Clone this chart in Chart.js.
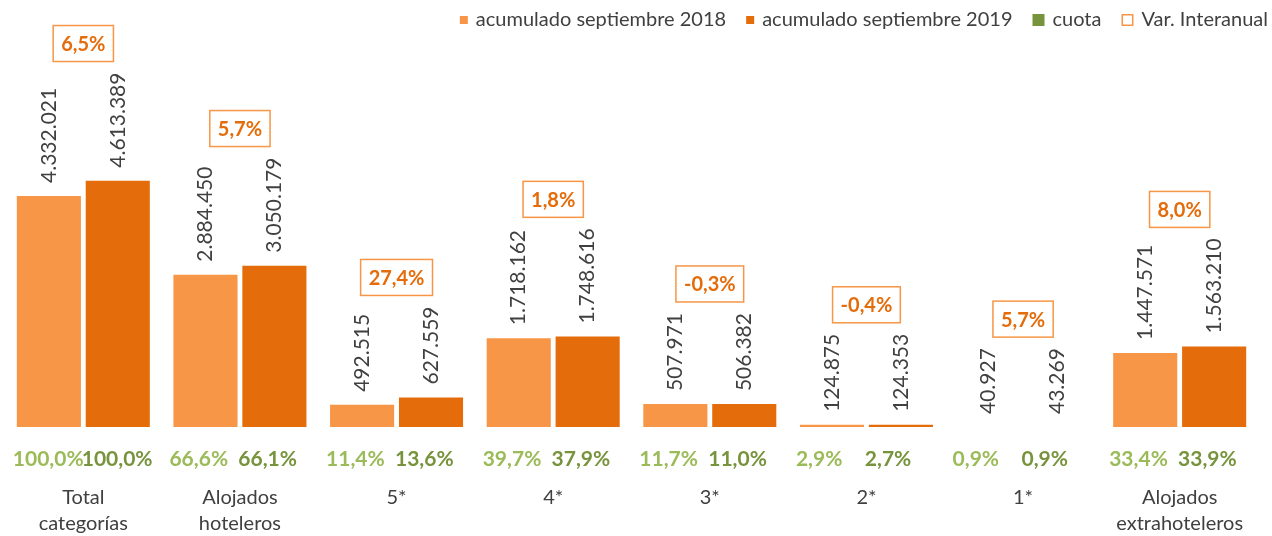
<!DOCTYPE html>
<html>
<head>
<meta charset="utf-8">
<script src="https://cdn.jsdelivr.net/npm/chart.js@4"></script>
<style>
  html, body { margin: 0; padding: 0; background: #ffffff; }
  #wrap { width: 1272px; height: 536px; }
</style>
</head>
<body>
<div id="wrap"><canvas id="c" width="1272" height="536"></canvas></div>
<script>
// ---- data ----
const categories = [
  ['Total', 'categorías'],
  ['Alojados', 'hoteleros'],
  '5*', '4*', '3*', '2*', '1*',
  ['Alojados', 'extrahoteleros']
];
const seriesNames = ['acumulado septiembre 2018', 'acumulado septiembre 2019', 'cuota', 'Var. Interanual'];
const acum2018 = [4332021, 2884450, 492515, 1718162, 507971, 124875, 40927, 1447571];
const acum2019 = [4613389, 3050179, 627559, 1748616, 506382, 124353, 43269, 1563210];
const cuota2018 = [100.0, 66.6, 11.4, 39.7, 11.7, 2.9, 0.9, 33.4];
const cuota2019 = [100.0, 66.1, 13.6, 37.9, 11.0, 2.7, 0.9, 33.9];
const varInteranual = [6.5, 5.7, 27.4, 1.8, -0.3, -0.4, 5.7, 8.0];

// ---- styles ----
const C18 = '#F79646', C19 = '#E46C0A', GREEN_L = '#9BBB59', GREEN_D = '#77933C', TXT = '#404040';
const FONT = 'Lato, "Open Sans", sans-serif';

const fmtInt = v => String(v).replace(/\B(?=(\d{3})+(?!\d))/g, '.');
const fmtPct = v => v.toFixed(1).replace('.', ',') + '%';

const labelsPlugin = {
  id: 'labelsPlugin',
  afterDatasetsDraw(chart) {
    const ctx = chart.ctx;
    const area = chart.chartArea;
    const m0 = chart.getDatasetMeta(0), m1 = chart.getDatasetMeta(1);
    ctx.save();
    const gap = 13;
    for (let i = 0; i < categories.length; i++) {
      const bars = [m0.data[i], m1.data[i]];
      const vals = [acum2018[i], acum2019[i]];
      const cuotas = [cuota2018[i], cuota2019[i]];
      const cols = [GREEN_L, GREEN_D];
      let minTop = Infinity;
      bars.forEach((b, k) => {
        const top = Math.min(b.y, b.base, area.bottom);
        const txt = fmtInt(vals[k]);
        ctx.font = '21px ' + FONT;
        const w = ctx.measureText(txt).width;
        ctx.save();
        ctx.translate(b.x, top - gap);
        ctx.rotate(-Math.PI / 2);
        ctx.fillStyle = TXT;
        ctx.textAlign = 'left';
        ctx.textBaseline = 'middle';
        ctx.fillText(txt, 0, 0);
        ctx.restore();
        minTop = Math.min(minTop, top - gap - w);
        // cuota labels
        ctx.font = 'bold 21px ' + FONT;
        ctx.fillStyle = cols[k];
        ctx.textAlign = 'left';
        ctx.textBaseline = 'middle';
        ctx.fillText(fmtPct(cuotas[k]), b.x - b.width / 2 - 4, 459);
      });
      // boxed variation
      const cx = (bars[0].x + bars[1].x) / 2;
      const t = fmtPct(varInteranual[i]);
      ctx.font = 'bold 20px ' + FONT;
      const tw = ctx.measureText(t).width;
      const bw = tw + 16, bh = 36;
      const by = minTop - 11 - bh;
      ctx.fillStyle = '#ffffff';
      ctx.fillRect(cx - bw / 2, by, bw, bh);
      ctx.strokeStyle = C18;
      ctx.lineWidth = 1.5;
      ctx.strokeRect(cx - bw / 2, by, bw, bh);
      ctx.fillStyle = C19;
      ctx.textAlign = 'center';
      ctx.textBaseline = 'middle';
      ctx.fillText(t, cx, by + bh / 2 + 1);
    }
    // legend (right aligned)
    ctx.font = '20px ' + FONT;
    ctx.textBaseline = 'middle';
    ctx.textAlign = 'left';
    const items = [
      { name: seriesNames[0], size: 8, fill: C18 },
      { name: seriesNames[1], size: 8, fill: C19 },
      { name: seriesNames[2], size: 12, fill: GREEN_D },
      { name: seriesNames[3], size: 12, stroke: C18 }
    ];
    const ly = 20, mgap = 8, igap = 20;
    let x = 1268;
    for (let j = items.length - 1; j >= 0; j--) {
      const it = items[j];
      const w = ctx.measureText(it.name).width;
      x -= w;
      ctx.fillStyle = TXT;
      ctx.fillText(it.name, x, ly);
      x -= mgap + it.size;
      if (it.fill) {
        ctx.fillStyle = it.fill;
        ctx.fillRect(x, ly - it.size / 2, it.size, it.size);
      } else {
        ctx.strokeStyle = it.stroke;
        ctx.lineWidth = 1.5;
        ctx.strokeRect(x + 0.75, ly - it.size / 2 + 0.75, it.size - 1.5, it.size - 1.5);
      }
      x -= igap;
    }
    ctx.restore();
  }
};

new Chart(document.getElementById('c'), {
  type: 'bar',
  data: {
    labels: categories,
    datasets: [
      { label: seriesNames[0], data: acum2018, backgroundColor: C18, barPercentage: 0.93, categoryPercentage: 0.88, clip: 0 },
      { label: seriesNames[1], data: acum2019, backgroundColor: C19, barPercentage: 0.93, categoryPercentage: 0.88, clip: 0 }
    ]
  },
  options: {
    responsive: false,
    devicePixelRatio: 1,
    animation: false,
    layout: { padding: { top: 40, left: 5, right: 14, bottom: 0 } },
    plugins: { legend: { display: false }, tooltip: { enabled: false } },
    scales: {
      x: {
        grid: { display: false, drawTicks: false },
        border: { display: false },
        afterFit: (scale) => { scale.height = 109; scale.paddingLeft = 0; scale.paddingRight = 0; },
        ticks: { color: TXT, font: { family: FONT, size: 20, lineHeight: 1.3 }, padding: 58, maxRotation: 0, autoSkip: false }
      },
      y: { display: false, min: 85000, max: 7200000 }
    }
  },
  plugins: [labelsPlugin]
});
</script>
</body>
</html>
